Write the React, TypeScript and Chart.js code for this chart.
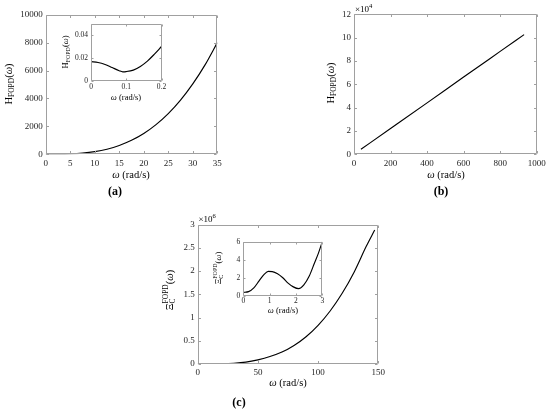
import React, { useEffect, useRef } from "react";
import { Chart, registerables } from "chart.js";

Chart.register(...registerables);

// ---------------- data ----------------
const aOmega = [0, 2.5, 5, 7.5, 10, 12.5, 15, 17.5, 20, 22.5, 25, 27.5, 30, 32.5, 35];
const aH = [0, 3, 23, 79, 187, 364, 630, 1000, 1490, 2126, 2915, 3880, 5040, 6405, 8000];

const aInOmega = [0, 0.02, 0.04, 0.06, 0.08, 0.09, 0.1, 0.12, 0.14, 0.16, 0.18, 0.2];
const aInH = [0.0168, 0.016, 0.0142, 0.0115, 0.0088, 0.0078, 0.008, 0.0093, 0.0125, 0.0172, 0.0233, 0.03];

const bOmega = [38, 200, 400, 600, 800, 931];
const bH = [4300, 22100, 44100, 66200, 88200, 102600];

const cOmega = [0, 10, 20, 30, 40, 50, 60, 70, 80, 90, 100, 110, 120, 130, 140, 147];
const cXi = [0, 400, 4100, 15600, 40300, 90000, 160000, 256000, 398000, 587000, 832000, 1140000, 1520000, 1980000, 2530000, 2880000];

const cInOmega = [0, 0.2, 0.4, 0.6, 0.8, 0.95, 1.1, 1.3, 1.5, 1.7, 1.9, 2.1, 2.3, 2.5, 2.7, 2.85, 3];
const cInXi = [0.37, 0.45, 0.87, 1.65, 2.4, 2.7, 2.68, 2.45, 2.0, 1.4, 0.98, 0.78, 1.2, 2.15, 3.6, 4.7, 6.0];

// tick values
const aXTicks = [0, 5, 10, 15, 20, 25, 30, 35];
const aYTicks = [0, 2000, 4000, 6000, 8000, 10000];
const aInXTicks = [0, 0.1, 0.2];
const aInYTicks = [0, 0.02, 0.04];
const bXTicks = [0, 200, 400, 600, 800, 1000];
const bYTicks = [0, 20000, 40000, 60000, 80000, 100000, 120000];
const cXTicks = [0, 50, 100, 150];
const cYTicks = [0, 500000, 1000000, 1500000, 2000000, 2500000, 3000000];
const cInXTicks = [0, 1, 2, 3];
const cInYTicks = [0, 2, 4, 6];

// ---------------- helpers ----------------
const FAMILY = "'Liberation Serif', 'Times New Roman', 'DejaVu Serif', serif";

type Part = { t: string; size: number; dy?: number; italic?: boolean; bold?: boolean; noAdv?: boolean };
type TextItem = { x: number; y: number; parts: Part[]; rot?: boolean; align?: "left" | "center" };
type Box = { x: number; y: number; w: number; h: number };
type Area = { L: number; T: number; R: number; B: number };
type Spec = {
  canvas: Box;
  area: Area;
  xs: number[];
  ys: number[];
  xMin: number;
  xMax: number;
  yMin: number;
  yMax: number;
  xTicks: number[];
  yTicks: number[];
  xFmt: (v: number) => string;
  yFmt: (v: number) => string;
  tickSize: number;
  xPad: number;
  yPad: number;
  tickLen: number;
  fill: boolean;
  texts: TextItem[];
};

function fontOf(p: Part) {
  return `${p.italic ? "italic " : ""}${p.bold ? "bold " : ""}${p.size}px ${FAMILY}`;
}

function drawRich(ctx: CanvasRenderingContext2D, item: TextItem, ox: number, oy: number) {
  ctx.save();
  ctx.translate(item.x - ox, item.y - oy);
  if (item.rot) ctx.rotate(-Math.PI / 2);
  ctx.textBaseline = "middle";
  ctx.textAlign = "left";
  ctx.fillStyle = "#000";
  const widths = item.parts.map((p) => {
    ctx.font = fontOf(p);
    return ctx.measureText(p.t).width;
  });
  let total = 0;
  item.parts.forEach((p, i) => {
    if (!p.noAdv) total += widths[i];
  });
  let x = item.align === "left" ? 0 : -total / 2;
  item.parts.forEach((p, i) => {
    ctx.font = fontOf(p);
    ctx.fillText(p.t, x, p.dy || 0);
    if (!p.noAdv) x += widths[i];
  });
  ctx.restore();
}

function makePlugin(spec: Spec) {
  return {
    id: "frame",
    beforeDraw(chart: any) {
      if (!spec.fill) return;
      const a = chart.chartArea;
      const ctx = chart.ctx;
      ctx.save();
      ctx.fillStyle = "#fff";
      ctx.fillRect(a.left, a.top, a.right - a.left, a.bottom - a.top);
      ctx.restore();
    },
    afterDatasetsDraw(chart: any) {
      const a = chart.chartArea;
      const ctx: CanvasRenderingContext2D = chart.ctx;
      const sx = chart.scales.x;
      const sy = chart.scales.y;
      const L = Math.round(a.left) + 0.5;
      const R = Math.round(a.right) - 0.5;
      const T = Math.round(a.top) + 0.5;
      const B = Math.round(a.bottom) - 0.5;
      const len = spec.tickLen;
      ctx.save();
      ctx.strokeStyle = "#a0a0a0";
      ctx.lineWidth = 1;
      ctx.beginPath();
      ctx.rect(L, T, R - L, B - T);
      sx.ticks.forEach((t: any) => {
        const px = Math.round(sx.getPixelForValue(t.value)) + 0.5;
        ctx.moveTo(px, B);
        ctx.lineTo(px, B - len);
        ctx.moveTo(px, T);
        ctx.lineTo(px, T + len);
      });
      sy.ticks.forEach((t: any) => {
        const py = Math.round(sy.getPixelForValue(t.value)) + 0.5;
        ctx.moveTo(L, py);
        ctx.lineTo(L + len, py);
        ctx.moveTo(R, py);
        ctx.lineTo(R - len, py);
      });
      ctx.stroke();
      ctx.restore();
    },
    afterDraw(chart: any) {
      const ctx: CanvasRenderingContext2D = chart.ctx;
      spec.texts.forEach((t) => drawRich(ctx, t, spec.canvas.x, spec.canvas.y));
    },
  };
}

function Plot({ spec }: { spec: Spec }) {
  const ref = useRef<HTMLCanvasElement | null>(null);
  useEffect(() => {
    if (!ref.current) return;
    const { canvas, area } = spec;
    const chart = new Chart(ref.current, {
      type: "line",
      data: {
        datasets: [
          {
            data: spec.xs.map((x, i) => ({ x, y: spec.ys[i] })),
            borderColor: "#000",
            borderWidth: 1.15,
            pointRadius: 0,
            fill: false,
            cubicInterpolationMode: "monotone",
          } as any,
        ],
      },
      options: {
        responsive: false,
        animation: false,
        events: [],
        layout: {
          padding: {
            left: 0,
            top: area.T - canvas.y,
            right: canvas.x + canvas.w - area.R,
            bottom: 0,
          },
        },
        plugins: {
          legend: { display: false },
          tooltip: { enabled: false },
          title: { display: false },
        },
        scales: {
          x: {
            type: "linear",
            min: spec.xMin,
            max: spec.xMax,
            grid: { display: false, drawTicks: false },
            border: { display: false },
            afterFit: (s: any) => {
              s.height = canvas.y + canvas.h - area.B;
            },
            afterBuildTicks: (s: any) => {
              s.ticks = spec.xTicks.map((v) => ({ value: v }));
            },
            ticks: {
              font: { family: FAMILY, size: spec.tickSize },
              color: "#262626",
              padding: spec.xPad,
              maxRotation: 0,
              autoSkip: false,
              callback: (v: any) => spec.xFmt(Number(v)),
            },
          },
          y: {
            type: "linear",
            min: spec.yMin,
            max: spec.yMax,
            grid: { display: false, drawTicks: false },
            border: { display: false },
            afterFit: (s: any) => {
              s.width = area.L - canvas.x;
            },
            afterBuildTicks: (s: any) => {
              s.ticks = spec.yTicks.map((v) => ({ value: v }));
            },
            ticks: {
              font: { family: FAMILY, size: spec.tickSize },
              color: "#262626",
              padding: spec.yPad,
              autoSkip: false,
              callback: (v: any) => spec.yFmt(Number(v)),
            },
          },
        },
      } as any,
      plugins: [makePlugin(spec) as any],
    });
    let alive = true;
    if (typeof document !== "undefined" && (document as any).fonts) {
      Promise.all([
        document.fonts.load(`9px ${FAMILY}`),
        document.fonts.load(`italic 9px ${FAMILY}`),
        document.fonts.load(`bold 12px ${FAMILY}`),
      ])
        .then(() => {
          if (alive) chart.update();
        })
        .catch(() => {});
    }
    return () => {
      alive = false;
      chart.destroy();
    };
  }, [spec]);
  const c = spec.canvas;
  return (
    <canvas
      ref={ref}
      width={c.w}
      height={c.h}
      style={{ position: "absolute", left: c.x, top: c.y, width: c.w, height: c.h }}
    />
  );
}

// ---------------- text pieces ----------------
const omegaTitle = (x: number, y: number, size: number): TextItem => ({
  x,
  y,
  parts: [
    { t: "ω", size, italic: true },
    { t: " (rad/s)", size },
  ],
});

const hTitle = (x: number, y: number, size: number, sub: number): TextItem => ({
  x,
  y,
  rot: true,
  parts: [
    { t: "H", size },
    { t: "FOPD", size: sub, dy: size * 0.3 },
    { t: "(", size },
    { t: "ω", size, italic: true },
    { t: ")", size },
  ],
});

const xiTitle = (x: number, y: number, size: number, sub: number): TextItem => ({
  x,
  y,
  rot: true,
  parts: [
    { t: "Ξ", size },
    { t: "C", size: sub, dy: size * 0.3, noAdv: true },
    { t: "FOPD", size: sub, dy: -size * 0.38 },
    { t: "(", size },
    { t: "ω", size, italic: true },
    { t: ")", size },
  ],
});

const expo = (x: number, y: number, e: string): TextItem => ({
  x,
  y,
  align: "left",
  parts: [
    { t: "×10", size: 9 },
    { t: e, size: 6.5, dy: -3.2 },
  ],
});

const plain = (v: number) => String(v);

const specs: Spec[] = [
  {
    canvas: { x: 0, y: 0, w: 275, h: 200 },
    area: { L: 45.7, T: 14.7, R: 217.3, B: 154.3 },
    xs: aOmega,
    ys: aH,
    xMin: 0,
    xMax: 35,
    yMin: 0,
    yMax: 10000,
    xTicks: aXTicks,
    yTicks: aYTicks,
    xFmt: plain,
    yFmt: plain,
    tickSize: 9,
    xPad: 4.3,
    yPad: 3,
    tickLen: 2.5,
    fill: false,
    texts: [
      hTitle(9, 84, 10.5, 7.5),
      omegaTitle(131, 175, 10.5),
      { x: 115, y: 192, parts: [{ t: "(a)", size: 12, bold: true }] },
    ],
  },
  {
    canvas: { x: 55, y: 15, w: 120, h: 90 },
    area: { L: 91, T: 23.7, R: 161.5, B: 80.7 },
    xs: aInOmega,
    ys: aInH,
    xMin: 0,
    xMax: 0.2,
    yMin: 0,
    yMax: 0.05,
    xTicks: aInXTicks,
    yTicks: aInYTicks,
    xFmt: (v) => (v === 0 ? "0" : v.toFixed(1)),
    yFmt: (v) => (v === 0 ? "0" : v.toFixed(2)),
    tickSize: 7.5,
    xPad: 2.3,
    yPad: 3,
    tickLen: 2,
    fill: true,
    texts: [hTitle(66, 52, 8.5, 6), omegaTitle(126, 97.5, 8.5)],
  },
  {
    canvas: { x: 275, y: 0, w: 275, h: 200 },
    area: { L: 354, T: 14.3, R: 538.3, B: 154.3 },
    xs: bOmega,
    ys: bH,
    xMin: 0,
    xMax: 1000,
    yMin: 0,
    yMax: 120000,
    xTicks: bXTicks,
    yTicks: bYTicks,
    xFmt: plain,
    yFmt: (v) => String(v / 10000),
    tickSize: 9,
    xPad: 4.3,
    yPad: 3,
    tickLen: 2.5,
    fill: false,
    texts: [
      hTitle(331, 83, 10.5, 7.5),
      omegaTitle(446, 175, 10.5),
      expo(355, 9.5, "4"),
      { x: 441, y: 192, parts: [{ t: "(b)", size: 12, bold: true }] },
    ],
  },
  {
    canvas: { x: 140, y: 205, w: 270, h: 209 },
    area: { L: 197.7, T: 224.5, R: 378.3, B: 364 },
    xs: cOmega,
    ys: cXi,
    xMin: 0,
    xMax: 150,
    yMin: 0,
    yMax: 3000000,
    xTicks: cXTicks,
    yTicks: cYTicks,
    xFmt: plain,
    yFmt: (v) => String(v / 1000000),
    tickSize: 9,
    xPad: 3.3,
    yPad: 3,
    tickLen: 2.5,
    fill: false,
    texts: [
      xiTitle(170, 290, 10.5, 7.5),
      omegaTitle(288, 383, 10.5),
      expo(198.5, 219.5, "6"),
      { x: 239, y: 403, parts: [{ t: "(c)", size: 12, bold: true }] },
    ],
  },
  {
    canvas: { x: 205, y: 232, w: 130, h: 86 },
    area: { L: 243.3, T: 241.7, R: 322.3, B: 295.7 },
    xs: cInOmega,
    ys: cInXi,
    xMin: 0,
    xMax: 3,
    yMin: 0,
    yMax: 6,
    xTicks: cInXTicks,
    yTicks: cInYTicks,
    xFmt: plain,
    yFmt: plain,
    tickSize: 7.5,
    xPad: 0.8,
    yPad: 3,
    tickLen: 2,
    fill: true,
    texts: [xiTitle(219, 268, 8.5, 6), omegaTitle(283, 311, 8.5)],
  },
];

export default function App() {
  return (
    <div
      style={{
        position: "absolute",
        left: 0,
        top: 0,
        width: 550,
        height: 414,
        background: "#fff",
        overflow: "hidden",
        fontFamily: FAMILY,
      }}
    >
      {specs.map((s, i) => (
        <Plot key={i} spec={s} />
      ))}
    </div>
  );
}
